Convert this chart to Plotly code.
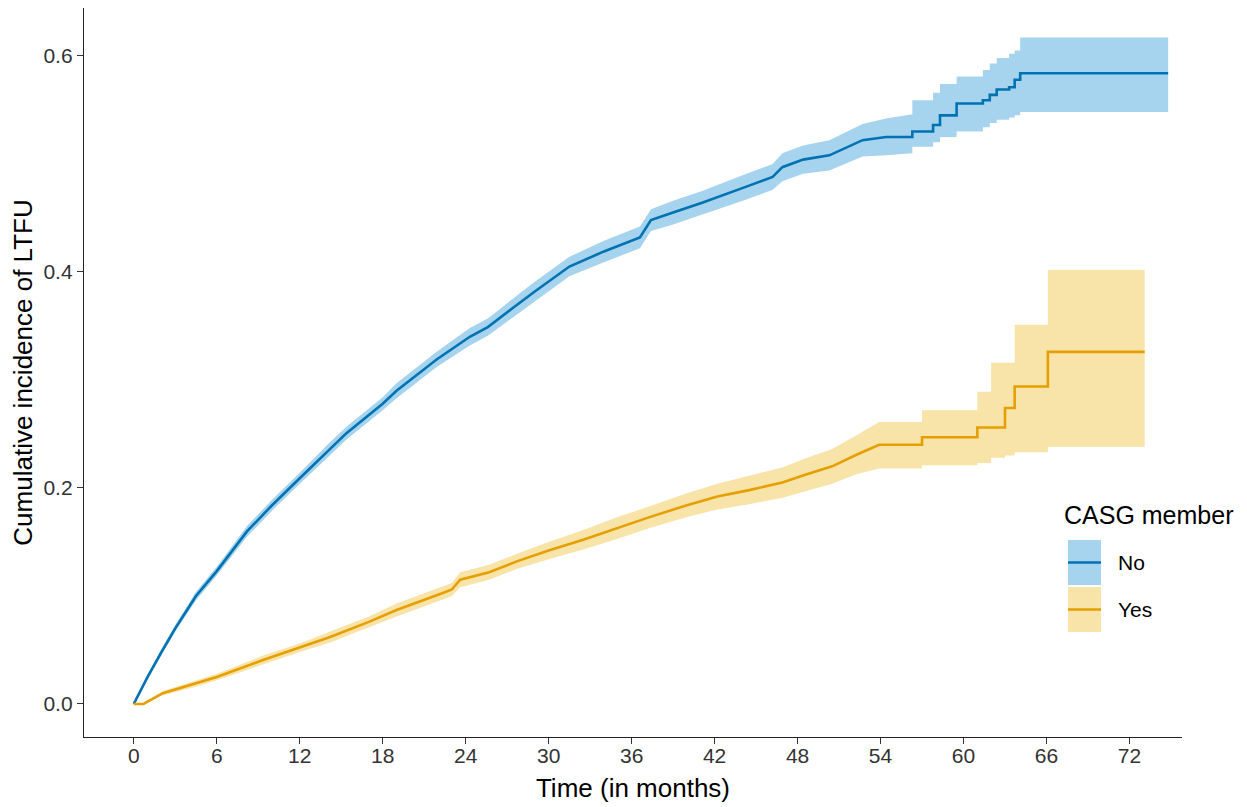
import plotly.graph_objects as go

# ---------------- data ----------------
time_no = [0, 1, 2, 3, 4.5, 6, 8.2, 10, 12, 14, 15.4, 18, 19, 21.9, 24.3, 25.6, 28.9, 31.5, 34, 36.6,
           37.0, 37.4, 39, 41.1, 44.3, 46.2, 46.9, 48.4, 50.3, 52.7, 54.4,
           56.3, 56.3, 57.8, 57.8, 58.3, 58.3, 59.5, 59.5, 61.4, 61.4, 61.9, 61.9, 62.4, 62.4,
           63.3, 63.3, 63.7, 63.7, 64.1, 64.1, 74.8]
cif_no = [0, .025, .048, .070, .100, .123, .160, .184, .209, .234, .251, .278, .290, .319, .340, .349, .381, .405, .419, .432,
          .440, .448, .455, .464, .479, .488, .497, .504, .508, .522, .525,
          .525, .530, .530, .536, .536, .545, .545, .556, .556, .559, .559, .564, .564, .569,
          .569, .571, .571, .578, .578, .584, .584]
lower_no = [0, .023, .045, .067, .096, .119, .155, .179, .204, .228, .245, .272, .283, .312, .332, .341, .372, .396, .409, .422,
            .430, .438, .444, .453, .467, .476, .484, .491, .494, .507, .508,
            .510, .516, .516, .520, .520, .525, .525, .530, .530, .534, .534, .538, .538, .541,
            .541, .543, .543, .545, .545, .548, .548]
upper_no = [0, .027, .051, .073, .104, .127, .165, .189, .214, .240, .257, .284, .297, .326, .348, .357, .390, .414, .429, .442,
            .450, .458, .466, .475, .491, .500, .510, .517, .522, .537, .542,
            .546, .559, .559, .566, .566, .574, .574, .581, .581, .587, .587, .593, .593, .598,
            .598, .602, .602, .605, .605, .617, .617]

time_yes = [0, 0.7, 2.1, 4.5, 6, 9.4, 12, 14.2, 17, 19.0, 22.4, 23.0, 23.6, 25.7, 27.7, 30, 32.5, 35, 37.3, 40,
            42.2, 44.5, 46.9, 48.5, 50.5, 52.3, 53.9,
            57.0, 57.0, 61.0, 61.0, 62.0, 62.0, 63.0, 63.0, 63.7, 63.7, 66.1, 66.1, 73.1]
cif_yes = [0, 0, .010, .019, .025, .041, .052, .062, .076, .087, .103, .106, .115, .122, .132, .142, .152, .163, .173, .184,
           .192, .198, .205, .212, .220, .231, .240,
           .240, .247, .247, .256, .256, .256, .256, .274, .274, .294, .294, .326, .326]
lower_yes = [0, 0, .008, .016, .022, .037, .048, .057, .071, .081, .097, .100, .108, .115, .125, .134, .143, .153, .163, .173,
             .180, .185, .191, .197, .204, .213, .218,
             .218, .221, .221, .223, .223, .228, .228, .230, .230, .233, .233, .238, .238]
upper_yes = [0, 0, .012, .022, .028, .045, .056, .067, .081, .093, .109, .112, .122, .129, .139, .150, .161, .173, .183, .195,
             .204, .211, .219, .227, .236, .249, .261,
             .261, .272, .272, .289, .289, .316, .316, .316, .316, .351, .351, .402, .402]

x_ticks = [0, 6, 12, 18, 24, 30, 36, 42, 48, 54, 60, 66, 72]
y_ticks = [0.0, 0.2, 0.4, 0.6]
y_tick_labels = ["0.0", "0.2", "0.4", "0.6"]
groups = ["No", "Yes"]
legend_title = "CASG member"

# ---------------- style ----------------
BLUE = "#0072B2"
BLUE_FILL = "#a6d3ed"
YEL = "#E69F00"
YEL_FILL = "#f8e3a8"
FONT = "Liberation Sans, Arial, sans-serif"

OFF = 8  # default page body margin
W, H = 1247 - OFF, 807 - OFF
ML, MR, MT, MB = 76, 65, 0, 70

fig = go.Figure()

def add_group(t, v, lo, hi, line_col, fill_col, name):
    fig.add_trace(go.Scatter(x=t, y=lo, mode="lines", line=dict(width=0, color=fill_col),
                             showlegend=False, hoverinfo="skip"))
    fig.add_trace(go.Scatter(x=t, y=hi, mode="lines", line=dict(width=0, color=fill_col),
                             fill="tonexty", fillcolor=fill_col, showlegend=False, hoverinfo="skip"))
    fig.add_trace(go.Scatter(x=t, y=v, mode="lines", line=dict(width=2.6, color=line_col),
                             name=name, showlegend=False))

add_group(time_no, cif_no, lower_no, upper_no, BLUE, BLUE_FILL, groups[0])
add_group(time_yes, cif_yes, lower_yes, upper_yes, YEL, YEL_FILL, groups[1])

fig.update_layout(
    width=W, height=H,
    margin=dict(l=ML, r=MR, t=MT, b=MB),
    paper_bgcolor="white", plot_bgcolor="white",
    font=dict(family=FONT, color="black"),
    showlegend=False,
)
fig.update_xaxes(range=[-3.6, 75.8], tickvals=x_ticks, showgrid=False, zeroline=False,
                 showline=True, linecolor="#222", linewidth=1.3,
                 ticks="outside", ticklen=6, tickcolor="#333", tickwidth=1.2,
                 tickfont=dict(size=21, color="#333"), ticklabelstandoff=-6,
                 title=dict(text="Time (in months)", font=dict(size=26, color="black"), standoff=12))
fig.update_yaxes(range=[-0.0306, 0.6444], tickvals=y_ticks, ticktext=y_tick_labels,
                 showgrid=False, zeroline=False,
                 showline=True, linecolor="#222", linewidth=1.3,
                 ticks="outside", ticklen=6, tickcolor="#333", tickwidth=1.2,
                 tickfont=dict(size=21, color="#333"),
                 title=dict(text="Cumulative incidence of LTFU", font=dict(size=26, color="black"), standoff=8))

# ---------------- legend (drawn manually, inside panel) ----------------
pw, ph = W - ML - MR, H - MT - MB
def px(xs):
    return (xs - OFF - ML) / pw
def py(ys):
    return (OFF + H - MB - ys) / ph

fig.add_annotation(x=px(1062), y=py(515), xref="paper", yref="paper", text=legend_title,
                   showarrow=False, xanchor="left", yanchor="middle",
                   font=dict(size=25, color="black", family=FONT))
for i, (lc, fc) in enumerate([(BLUE, BLUE_FILL), (YEL, YEL_FILL)]):
    top = 540 + i * 47
    bot = top + 45
    mid = (top + bot) / 2
    fig.add_shape(type="rect", xref="paper", yref="paper", x0=px(1068), x1=px(1101),
                  y0=py(bot), y1=py(top), fillcolor=fc, line=dict(width=0), layer="above")
    fig.add_shape(type="line", xref="paper", yref="paper", x0=px(1068), x1=px(1101),
                  y0=py(mid), y1=py(mid), line=dict(color=lc, width=2.6), layer="above")
    fig.add_annotation(x=px(1116), y=py(mid), xref="paper", yref="paper", text=groups[i],
                       showarrow=False, xanchor="left", yanchor="middle",
                       font=dict(size=21, color="black", family=FONT))

fig.write_html("out.html")
